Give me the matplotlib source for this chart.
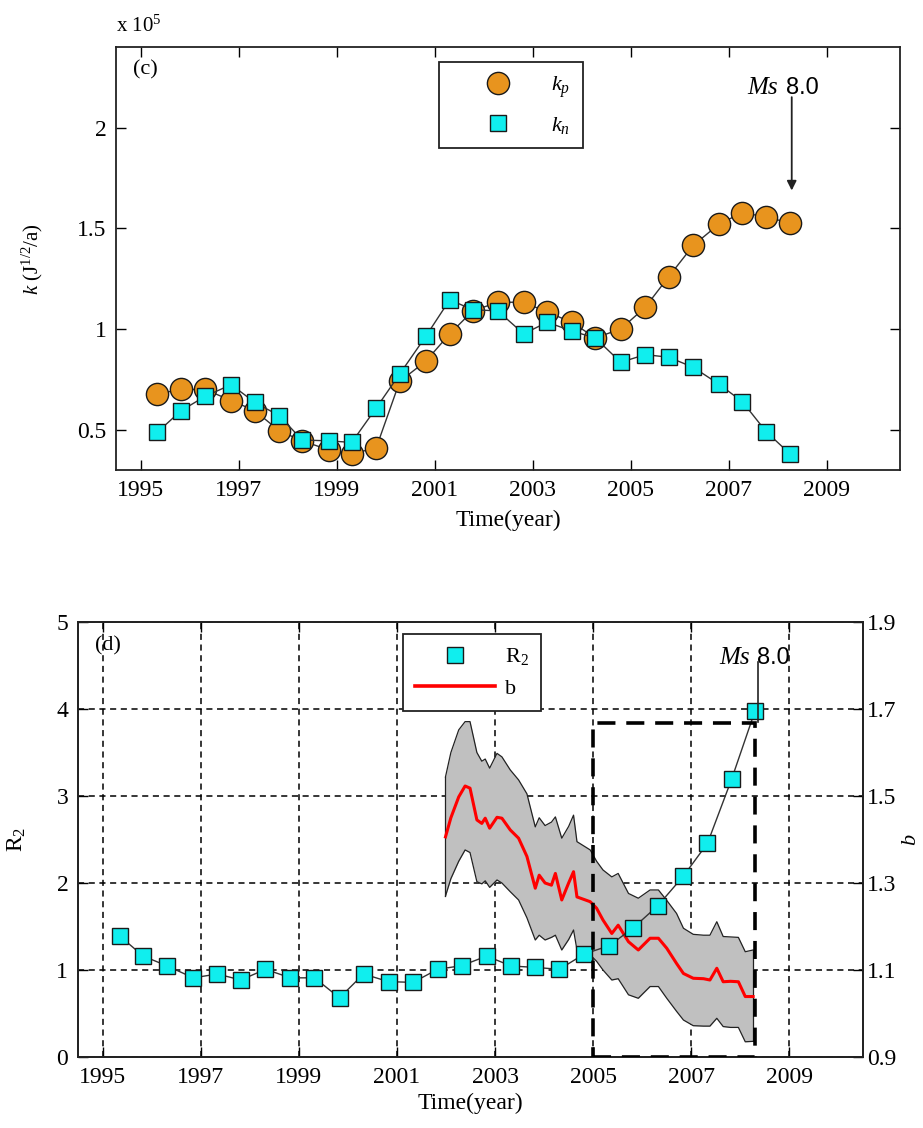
import numpy as np
import matplotlib
matplotlib.use("Agg")
from matplotlib import pyplot as plt
from matplotlib.lines import Line2D
from matplotlib.patches import Rectangle

plt.rcParams['font.family'] = ['Liberation Serif', 'DejaVu Serif']
plt.rcParams['mathtext.fontset'] = 'custom'
plt.rcParams['mathtext.rm'] = 'Liberation Serif'
plt.rcParams['mathtext.it'] = 'Liberation Serif:italic'
plt.rcParams['font.size'] = 17

# ---- panel (c) data (x 10^5)
yr_c = [1995.34, 1995.83, 1996.32, 1996.85, 1997.33, 1997.83, 1998.30, 1998.84, 1999.31,
        1999.81, 2000.29, 2000.82, 2001.31, 2001.78, 2002.29, 2002.82, 2003.30, 2003.80,
        2004.28, 2004.80, 2005.30, 2005.78, 2006.28, 2006.80, 2007.28, 2007.77, 2008.26]
kp = [0.678, 0.70, 0.70, 0.645, 0.595, 0.495, 0.445, 0.40, 0.38, 0.41, 0.74, 0.84, 0.976,
      1.09, 1.133, 1.133, 1.084, 1.034, 0.956, 1.0, 1.108, 1.26, 1.415, 1.52, 1.578, 1.556, 1.526]
kn = [0.487, 0.595, 0.666, 0.724, 0.636, 0.57, 0.449, 0.445, 0.437, 0.608, 0.777, 0.963, 1.145,
      1.096, 1.09, 0.976, 1.034, 0.99, 0.956, 0.835, 0.873, 0.86, 0.81, 0.727, 0.64, 0.49, 0.379]

# ---- panel (d) data
yr_d = [1995.35, 1995.83, 1996.32, 1996.85, 1997.34, 1997.82, 1998.32, 1998.83, 1999.32,
        1999.83, 2000.32, 2000.83, 2001.33, 2001.83, 2002.32, 2002.83, 2003.33, 2003.82,
        2004.31, 2004.82, 2005.33, 2005.82, 2006.32, 2006.84, 2007.33, 2007.82, 2008.30]
r2 = [1.39, 1.16, 1.046, 0.91, 0.954, 0.885, 1.008, 0.91, 0.91, 0.68, 0.954, 0.866, 0.858,
      1.008, 1.05, 1.16, 1.046, 1.03, 1.008, 1.184, 1.28, 1.486, 1.74, 2.08, 2.456, 3.19, 3.98]

yr_b = [2001.99, 2002.10, 2002.26, 2002.39, 2002.49, 2002.63, 2002.73, 2002.80, 2002.89,
        2003.04, 2003.14, 2003.31, 2003.48, 2003.65, 2003.82, 2003.90, 2004.02, 2004.15,
        2004.23, 2004.36, 2004.50, 2004.60, 2004.67, 2004.94, 2005.07, 2005.20, 2005.38,
        2005.51, 2005.72, 2005.92, 2006.16, 2006.33, 2006.50, 2006.70, 2006.84, 2007.04,
        2007.25, 2007.38, 2007.52, 2007.65, 2007.80, 2007.96, 2008.10, 2008.26]
b_val = [1.406, 1.45, 1.498, 1.523, 1.518, 1.445, 1.437, 1.449, 1.426, 1.451, 1.449, 1.422,
         1.403, 1.361, 1.288, 1.318, 1.300, 1.295, 1.322, 1.261, 1.30, 1.326, 1.268, 1.257,
         1.242, 1.215, 1.184, 1.203, 1.165, 1.146, 1.173, 1.173, 1.150, 1.115, 1.092, 1.081,
         1.080, 1.077, 1.104, 1.073, 1.074, 1.073, 1.039, 1.039]
b_up = [1.544, 1.60, 1.652, 1.671, 1.671, 1.60, 1.580, 1.585, 1.564, 1.598, 1.590, 1.56,
        1.537, 1.505, 1.429, 1.45, 1.432, 1.44, 1.452, 1.403, 1.43, 1.456, 1.395, 1.376,
        1.35, 1.33, 1.314, 1.322, 1.276, 1.265, 1.284, 1.284, 1.26, 1.23, 1.196, 1.182,
        1.180, 1.180, 1.211, 1.177, 1.176, 1.175, 1.142, 1.146]
b_lo = [1.270, 1.31, 1.35, 1.376, 1.37, 1.303, 1.298, 1.305, 1.29, 1.307, 1.30, 1.28,
        1.261, 1.22, 1.169, 1.18, 1.169, 1.175, 1.18, 1.146, 1.17, 1.192, 1.146, 1.135,
        1.12, 1.10, 1.077, 1.08, 1.043, 1.035, 1.062, 1.062, 1.035, 1.005, 0.985, 0.972,
        0.971, 0.971, 0.989, 0.970, 0.968, 0.968, 0.935, 0.936]

orange = '#E8941E'
cyan = '#10EEEE'
edge = '#1a1a1a'
years = np.arange(1995, 2010, 2)

fig = plt.figure(figsize=(9.23, 11.28), dpi=100)

# ================= (c)
ax = fig.add_axes([0.1257, 0.5833, 0.8494, 0.375])
ax.plot(yr_c, kp, '-', color='#333333', lw=1, marker='o', ms=16,
        mfc=orange, mec=edge, mew=1, zorder=2)
ax.plot(yr_c, kn, '-', color='#333333', lw=1, marker='s', ms=12,
        mfc=cyan, mec=edge, mew=1, zorder=3)
ax.set_xlim(1994.5, 2010.5)
ax.set_ylim(0.3, 2.4)
ax.set_xticks(years)
ax.set_yticks([0.5, 1, 1.5, 2])
ax.set_yticklabels(['0.5', '1', '1.5', '2'])
ax.tick_params(direction='in', top=True, right=True, length=7, width=1, pad=7)
for s in ax.spines.values():
    s.set_linewidth(1.3)
    s.set_color('#222222')
ax.set_xlabel('Time(year)')
ax.xaxis.set_label_coords(0.5, -0.095)
ax.set_ylabel('$k$ (J$^{1/2}$/a)', fontsize=15)
ax.yaxis.set_label_coords(-0.09, 0.5)
ax.text(0.0, 1.025, 'x 10$^5$', transform=ax.transAxes, ha='left', va='bottom', fontsize=15)
ax.text(0.022, 0.945, '(c)', transform=ax.transAxes, ha='left', va='center', fontsize=16)

ax.annotate('', xy=(2008.29, 1.674), xytext=(2008.29, 2.165),
            arrowprops=dict(arrowstyle='-|>', color='#222222', lw=1.3, mutation_scale=14))
ax.text(2008.0, 2.197, 'Ms', style='italic', ha='right', va='center', fontsize=18)
ax.text(2008.17, 2.197, '8.0', family='Liberation Sans', ha='left', va='center', fontsize=17)

h_c = [Line2D([], [], ls='none', marker='o', ms=16, mfc=orange, mec=edge),
       Line2D([], [], ls='none', marker='s', ms=12, mfc=cyan, mec=edge)]
leg = ax.legend(h_c, ['$k_p$', '$k_n$'], loc='upper left', bbox_to_anchor=(0.412, 0.965),
                fontsize=16, frameon=True, fancybox=False, framealpha=1, edgecolor='#222222',
                handlelength=4.2, handletextpad=0.3, labelspacing=0.7, borderpad=0.55,
                borderaxespad=0)
leg.get_frame().set_linewidth(1.3)

# ================= (d)
pos_d = [0.08451, 0.06294, 0.85049, 0.38564]
ax1 = fig.add_axes(pos_d)
ax1.set_xlim(1994.5, 2010.5)
ax1.set_ylim(0, 5)
ax1.set_xticks(years)
ax1.set_yticks(range(6))
ax1.grid(True, color='black', ls=(0, (4, 3)), lw=1.1)
ax1.tick_params(direction='in', top=True, length=7, width=1, pad=7)
for s in ax1.spines.values():
    s.set_linewidth(1.3)
    s.set_color('#222222')
ax1.set_ylabel('R$_2$')
ax1.yaxis.set_label_coords(-0.064, 0.5)
ax1.set_xlabel('Time(year)')
ax1.xaxis.set_label_coords(0.5, -0.083)

ax2 = ax1.twinx()
ax2.set_ylim(0.9, 1.9)
ax2.set_yticks([0.9, 1.1, 1.3, 1.5, 1.7, 1.9])
ax2.tick_params(direction='in', length=7, width=1, pad=3)
ax2.fill_between(yr_b, b_lo, b_up, color='#C0C0C0', lw=0)
ax2.plot(yr_b, b_up, color='#222222', lw=0.9)
ax2.plot(yr_b, b_lo, color='#222222', lw=0.9)
ax2.plot([yr_b[0], yr_b[0]], [b_lo[0], b_up[0]], color='#222222', lw=0.9)
ax2.plot([yr_b[-1], yr_b[-1]], [b_lo[-1], b_up[-1]], color='#222222', lw=0.9)
ax2.plot(yr_b, b_val, color='#FF0000', lw=2.2)
ax2.set_ylabel('$b$', fontsize=16)
ax2.yaxis.set_label_coords(1.05, 0.5)
for s in ax2.spines.values():
    s.set_linewidth(1.3)
    s.set_color('#222222')

# overlay for the squares, box and annotation
ax3 = fig.add_axes(pos_d, sharex=ax1, sharey=ax1)
ax3.patch.set_visible(False)
ax3.axis('off')
ax3.plot(yr_d, r2, '-', color='#333333', lw=1, marker='s', ms=12,
         mfc=cyan, mec=edge, mew=1, zorder=3)
ax3.add_patch(Rectangle((2005.0, 0), 3.3, 3.835, fill=False, ec='black', lw=2.6,
                        ls=(0, (5, 3)), zorder=4))
ax3.plot([2008.35, 2008.35], [4.54, 3.85], color='#222222', lw=1.2, zorder=5)
ax3.text(2008.2, 4.586, 'Ms', style='italic', ha='right', va='center', fontsize=18)
ax3.text(2008.33, 4.586, '8.0', family='Liberation Sans', ha='left', va='center', fontsize=17)
ax3.text(0.022, 0.945, '(d)', transform=ax3.transAxes, ha='left', va='center', fontsize=16)

h_d = [Line2D([], [], ls='none', marker='s', ms=12, mfc=cyan, mec=edge),
       Line2D([], [], color='#FF0000', lw=2.6)]
leg2 = ax3.legend(h_d, ['R$_2$', 'b'], loc='upper left', bbox_to_anchor=(0.414, 0.972),
                  fontsize=16, frameon=True, fancybox=False, framealpha=1, edgecolor='#222222',
                  handlelength=3.6, handletextpad=0.45, labelspacing=0.5, borderpad=0.55,
                  borderaxespad=0)
leg2.get_frame().set_linewidth(1.3)
leg2.set_zorder(10)

plt.savefig('out.png', dpi=100)
